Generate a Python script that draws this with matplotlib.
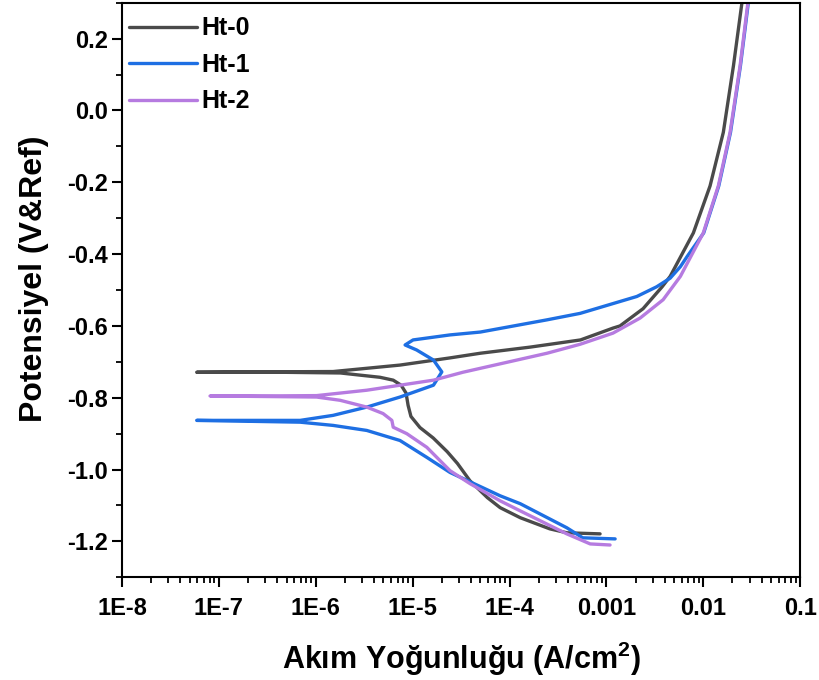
import matplotlib

matplotlib.use("Agg")
from matplotlib import pyplot as plt
from matplotlib.ticker import LogLocator, MultipleLocator, FixedLocator, NullFormatter

# Ht-0: cathodic end -> Ecorr -> anodic end
ht0_i = [8.6e-4, 3.9e-4, 2.6e-4, 1.29e-4, 8.0e-5, 5.9e-5, 3.9e-5, 2.9e-5, 2.27e-5,
         1.63e-5, 1.19e-5, 9.6e-6, 8.97e-6, 8.55e-6, 7.6e-6, 6.3e-6, 4.6e-6, 2.86e-6,
         1.8e-6, 4.3e-7, 5.9e-8,
         2.1e-7, 1.51e-6, 7.4e-6, 2.43e-5, 5.0e-5, 1.63e-4, 5.4e-4, 1.17e-3, 1.38e-3,
         2.39e-3, 3.76e-3, 4.55e-3, 7.9e-3, 0.01175, 0.0161, 0.0205, 0.0250]
ht0_e = [-1.179, -1.176, -1.165, -1.134, -1.106, -1.078, -1.031, -0.983, -0.950,
         -0.912, -0.883, -0.852, -0.821, -0.787, -0.765, -0.751, -0.743, -0.737,
         -0.731, -0.729, -0.729,
         -0.728, -0.727, -0.709, -0.689, -0.676, -0.659, -0.639, -0.606, -0.600,
         -0.552, -0.491, -0.462, -0.341, -0.210, -0.061, 0.125, 0.298]

# Ht-1
ht1_i = [1.23e-3, 5.7e-4, 3.9e-4, 1.29e-4, 8.0e-5, 2.43e-5, 1.4e-5, 7.4e-6, 3.36e-6,
         1.51e-6, 6.9e-7, 5.9e-8,
         2.1e-7, 6.9e-7, 1.51e-6, 3.36e-6, 7.4e-6, 1.64e-5, 2.0e-5, 1.64e-5, 1.1e-5,
         8.35e-6, 1.01e-5, 2.43e-5, 5.0e-5, 2.44e-4, 5.36e-4, 2.06e-3, 3.3e-3,
         4.55e-3, 5.8e-3, 6.8e-3, 0.0101, 0.01445, 0.0191, 0.0242, 0.0291]
ht1_e = [-1.193, -1.190, -1.162, -1.095, -1.073, -1.008, -0.966, -0.919, -0.891,
         -0.877, -0.868, -0.863,
         -0.863, -0.863, -0.849, -0.826, -0.798, -0.765, -0.728, -0.695, -0.667,
         -0.653, -0.639, -0.625, -0.617, -0.583, -0.565, -0.518, -0.491,
         -0.467, -0.435, -0.407, -0.341, -0.210, -0.061, 0.125, 0.298]

# Ht-2
ht2_i = [1.09e-3, 6.8e-4, 3.9e-4, 1.29e-4, 8.0e-5, 3.9e-5, 2.43e-5, 1.4e-5, 8.7e-6,
         6.3e-6, 6.1e-6, 4.95e-6, 3.36e-6, 1.78e-6, 1.02e-6, 8.1e-8,
         2.66e-7, 1.02e-6, 3.36e-6, 1.64e-5, 3.3e-5, 2.44e-4, 5.36e-4,
         1.17e-3, 2.23e-3, 3.85e-3, 5.8e-3, 0.0100, 0.0143, 0.0189, 0.0240, 0.0288]
ht2_e = [-1.210, -1.207, -1.179, -1.115, -1.087, -1.039, -1.003, -0.938, -0.900,
         -0.882, -0.863, -0.844, -0.826, -0.807, -0.798, -0.795,
         -0.795, -0.794, -0.779, -0.751, -0.729, -0.676, -0.651,
         -0.620, -0.578, -0.527, -0.462, -0.341, -0.210, -0.061, 0.125, 0.298]

labels = ["Ht-0", "Ht-1", "Ht-2"]
colors = ["#4a4a4a", "#1e6fe3", "#b67be0"]

x_ticks = [1e-8, 1e-7, 1e-6, 1e-5, 1e-4, 1e-3, 1e-2, 1e-1]
x_ticklabels = ["1E-8", "1E-7", "1E-6", "1E-5", "1E-4", "0.001", "0.01", "0.1"]
y_ticks = [-1.2, -1.0, -0.8, -0.6, -0.4, -0.2, 0.0, 0.2]

plt.rcParams["font.family"] = ["Liberation Sans", "DejaVu Sans"]
plt.rcParams["font.weight"] = "bold"
plt.rcParams["mathtext.fontset"] = "custom"
plt.rcParams["mathtext.bf"] = "Liberation Sans:bold"

fig = plt.figure(figsize=(8.19, 6.8), dpi=100)
ax = fig.add_axes([0.149, 0.151, 0.828, 0.845])

series = [(ht0_i, ht0_e), (ht1_i, ht1_e), (ht2_i, ht2_e)]
for (cur, pot), lab, col in zip(series, labels, colors):
    ax.plot(cur, pot, color=col, lw=2.4, label=lab, solid_capstyle="round",
            solid_joinstyle="round")

ax.set_xscale("log")
ax.set_xlim(1e-8, 0.1)
ax.set_ylim(-1.3, 0.3)

ax.xaxis.set_major_locator(FixedLocator(x_ticks))
ax.set_xticklabels(x_ticklabels)
ax.xaxis.set_minor_locator(LogLocator(base=10, subs=range(2, 10), numticks=20))
ax.xaxis.set_minor_formatter(NullFormatter())
ax.set_yticks(y_ticks)
ax.set_yticklabels([f"{v:.1f}" for v in y_ticks])
ax.yaxis.set_minor_locator(MultipleLocator(0.1))

ax.tick_params(which="major", direction="out", length=7, width=1.5, labelsize=17)
ax.tick_params(which="minor", direction="out", length=4, width=1.3)
ax.tick_params(axis="x", pad=7)
ax.tick_params(axis="y", pad=3)
for s in ax.spines.values():
    s.set_linewidth(1.5)

ax.set_xlabel("Akım Yoğunluğu (A/cm$^\\mathbf{2}$)", fontsize=22, fontweight="bold", labelpad=14)
ax.set_ylabel("Potensiyel (V&Ref)", fontsize=23, fontweight="bold")
ax.yaxis.set_label_coords(-0.108, 0.52)

leg = ax.legend(loc="upper left", bbox_to_anchor=(0.003, 0.985), frameon=False,
                fontsize=18, handlelength=2.7, borderaxespad=0.0, borderpad=0.2,
                labelspacing=0.5, handletextpad=0.2)
for t in leg.get_texts():
    t.set_fontweight("bold")

fig.savefig("out.png", dpi=100)
